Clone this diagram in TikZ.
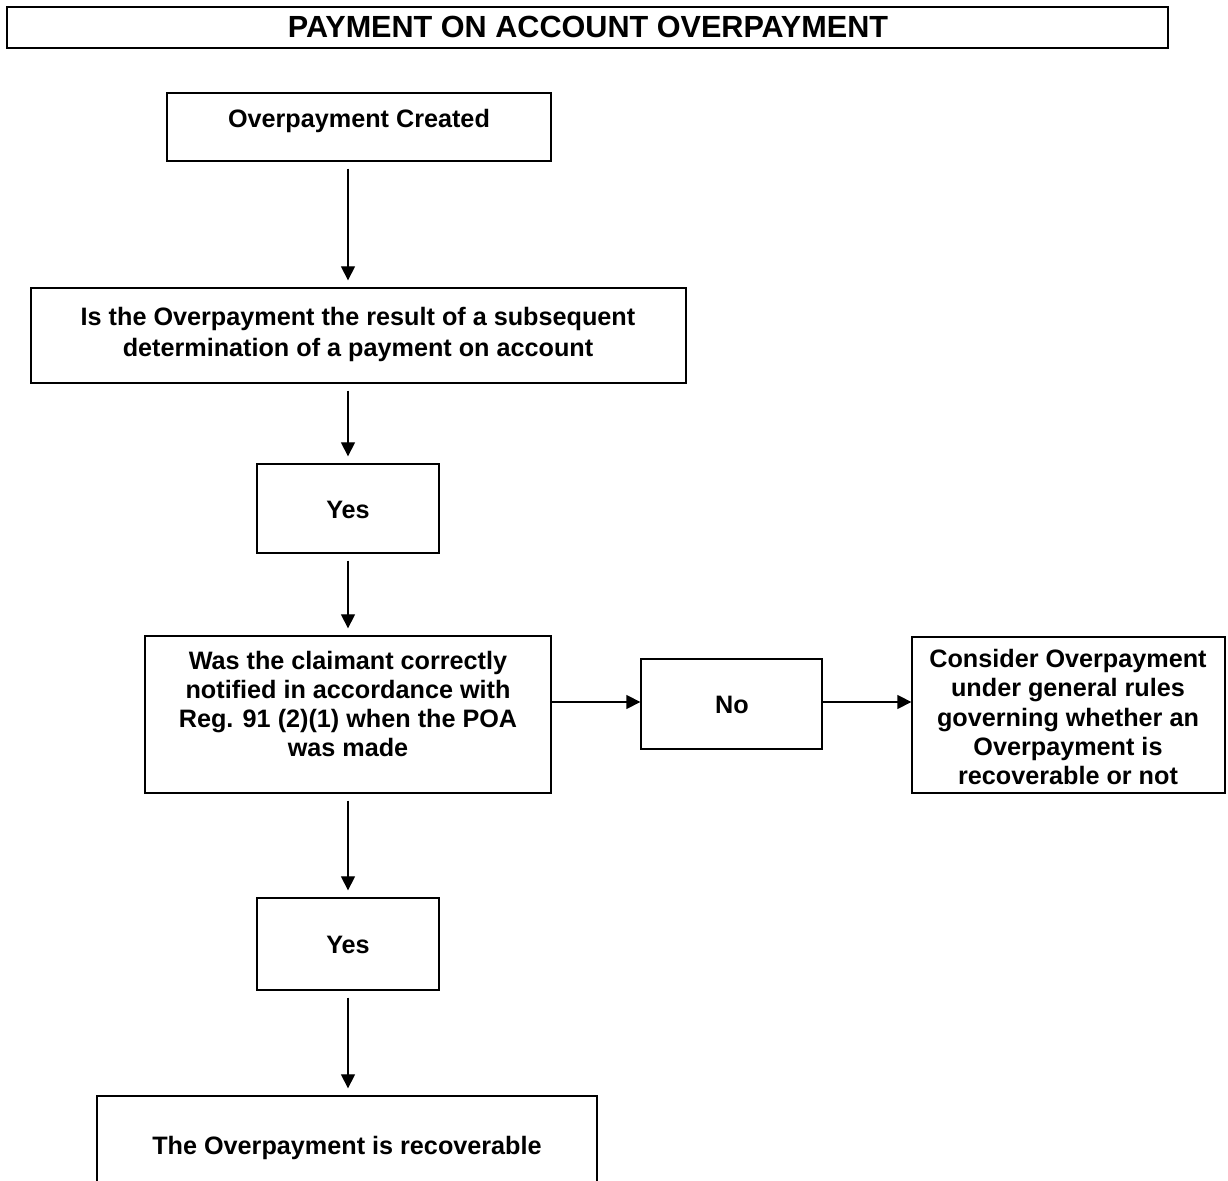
\documentclass[tikz,border=0pt]{standalone}
\usepackage{fontspec}
\setmainfont{Liberation Sans}
\usetikzlibrary{arrows.meta,calc}
\begin{document}
\begin{tikzpicture}[x=0.5pt,y=-0.5pt,
  box/.style={draw,line width=0.65pt,inner sep=0pt},
  txt/.style={font=\bfseries\fontsize{12.6}{14.6}\selectfont,align=center,inner sep=0pt},
  arr/.style={line width=0.65pt,-{Triangle[length=7pt,width=7pt]}},
  vgap/.style={shorten <=3.5pt,shorten >=3.5pt}]
\clip (0,0) rectangle (1228,1181);
\useasboundingbox (0,0) rectangle (1228,1181);
% title
\node[draw,line width=1pt,inner sep=0pt,minimum width=580.5pt,minimum height=20.5pt] (title) at (587.5,27.5) {};
\node[font=\bfseries\fontsize{15.3}{18}\selectfont,inner sep=0pt] (titletxt) at (588,27) {PAYMENT ON ACCOUNT OVERPAYMENT};
% boxes
\node[box,minimum width=192pt,minimum height=34pt] (b1) at (359,127) {};
\node[box,minimum width=327.5pt,minimum height=47.5pt] (b2) at (358.5,335.5) {};
\node[box,minimum width=91pt,minimum height=44.5pt] (y1) at (348,508.5) {};
\node[box,minimum width=203pt,minimum height=78.5pt] (b4) at (348,714.5) {};
\node[box,minimum width=90.5pt,minimum height=45pt] (no) at (731.5,704) {};
\node[box,minimum width=156.5pt,minimum height=78pt] (b5) at (1068.5,715) {};
\node[box,minimum width=91pt,minimum height=46pt] (y2) at (348,944) {};
\node[box,minimum width=250pt,minimum height=52pt] (fin) at (347,1148) {};
% texts
\node[txt] (t1) at (359,121) {Overpayment Created};
\node[txt,font=\bfseries\fontsize{12.6}{15.5}\selectfont] (t2) at (358,334) {Is the Overpayment the result of a subsequent\\determination of a payment on account};
\node[txt] (ty1) at (348,510) {Yes};
\node[txt] (t4) at (348,704) {Was the claimant correctly\\notified in accordance with\\Reg. 91 (2)(1) when the POA\\was made};
\node[txt] (tno) at (732,705) {No};
\node[txt] (t5) at (1068,717) {Consider Overpayment\\under general rules\\governing whether an\\Overpayment is\\recoverable or not};
\node[txt] (ty2) at (348,945) {Yes};
\node[txt] (tfin) at (347,1148) {The Overpayment is recoverable};
% connectors
\coordinate (col) at (348,0);
\coordinate (hrow) at (0,702);
\draw[arr,vgap] (b1.south -| col) -- (b2.north -| col);
\draw[arr,vgap] (b2.south -| col) -- (y1.north -| col);
\draw[arr,vgap] (y1.south -| col) -- (b4.north -| col);
\draw[arr,vgap] (b4.south -| col) -- (y2.north -| col);
\draw[arr,vgap] (y2.south -| col) -- (fin.north -| col);
\draw[arr] (b4.east |- hrow) -- (no.west |- hrow);
\draw[arr] (no.east |- hrow) -- (b5.west |- hrow);
\end{tikzpicture}
\end{document}
